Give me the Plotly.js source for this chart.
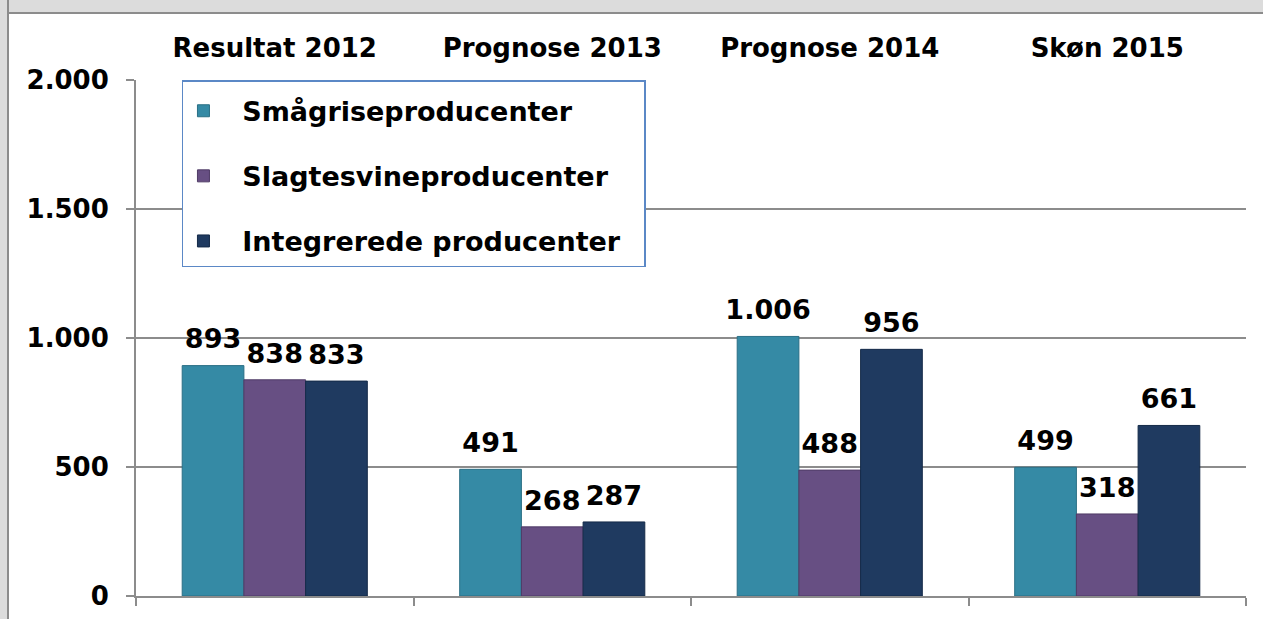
<!DOCTYPE html>
<html><head><meta charset="utf-8">
<script src="https://cdn.plot.ly/plotly-3.0.1.min.js"></script>
<style>
html,body{margin:0;padding:0;background:#fff;width:1263px;height:619px;overflow:hidden;scrollbar-width:none}
::-webkit-scrollbar{display:none;width:0;height:0}
#topbar{position:absolute;left:0;top:0;width:1263px;height:12px;background:#DCDCDC;border-bottom:2px solid #8c8c8c}
#leftbar{position:absolute;left:0;top:0;width:7px;height:619px;background:#DCDCDC;border-right:2px solid #8c8c8c}
#chart{position:absolute;left:0;top:0;width:1263px;height:619px}
</style></head><body>
<div id="topbar"></div><div id="leftbar"></div><div id="chart"></div>
<script>
const categories = ['Resultat 2012', 'Prognose 2013', 'Prognose 2014', 'Skøn 2015'];
const seriesNames = ['Smågriseproducenter', 'Slagtesvineproducenter', 'Integrerede producenter'];
const smaagrise = [893, 491, 1006, 499];
const slagtesvin = [838, 268, 488, 318];
const integrerede = [833, 287, 956, 661];
const yTicks = [0, 500, 1000, 1500, 2000];

const seriesValues = [smaagrise, slagtesvin, integrerede];
const fills = ['#358AA5', '#674F83', '#1F3A60'];
const edges = ['#2A6F85', '#4F3B66', '#142A48'];
const FONT = 'DejaVu Sans, Verdana, sans-serif';
const axisGray = '#8c8c8c';
const NB = '\u00A0\u00A0';

const traces = [];
seriesValues.forEach((vals, i) => {
  traces.push({
    type: 'bar',
    name: '<b>' + NB + seriesNames[i] + NB + '</b>',
    legendgroup: 'g' + i,
    x: categories,
    y: vals,
    marker: {color: fills[i], line: {color: edges[i], width: 1}},
    hoverinfo: 'x+y'
  });
});
// value labels: grouped scatter traces aligned with the bar groups
seriesValues.forEach((vals, i) => {
  traces.push({
    type: 'scatter',
    mode: 'markers+text',
    x: categories,
    y: vals,
    marker: {size: 15, opacity: 0, color: fills[i]},
    texttemplate: '<b>%{y:,}</b>',
    textposition: 'top center',
    textfont: {family: FONT, size: 27, color: '#000'},
    cliponaxis: false,
    showlegend: false,
    hoverinfo: 'skip'
  });
});

// invisible helper so the top axis draws category labels
traces.push({
  type: 'scatter', x: categories.map((c, i) => i), y: categories.map(() => 0),
  xaxis: 'x2', yaxis: 'y', mode: 'markers', marker: {opacity: 0},
  showlegend: false, hoverinfo: 'skip'
});

const layout = {
  width: 1263, height: 619,
  paper_bgcolor: 'rgba(0,0,0,0)',
  plot_bgcolor: 'rgba(0,0,0,0)',
  separators: ',.',
  margin: {l: 136, r: 17, t: 80, b: 23, pad: 0},
  barmode: 'group',
  bargap: 0.333,
  bargroupgap: 0,
  scattermode: 'group',
  scattergap: 0.333,
  font: {family: FONT, size: 26, color: '#000'},
  xaxis: {
    type: 'category',
    categoryorder: 'array', categoryarray: categories,
    tickson: 'boundaries', ticks: 'outside', ticklen: 8, tickwidth: 2, tickcolor: axisGray,
    showticklabels: false, showgrid: false,
    showline: true, linecolor: axisGray, linewidth: 2,
    zeroline: false, fixedrange: true
  },
  xaxis2: {
    overlaying: 'x', side: 'top', range: [-0.5, 3.5],
    tickmode: 'array', tickvals: categories.map((c, i) => i), ticktext: categories.map(c => '<b>' + c + '</b>'),
    ticks: '', showgrid: false, zeroline: false, showline: false,
    tickfont: {family: FONT, size: 26, color: '#000'},
    ticklabelstandoff: 17, fixedrange: true
  },
  yaxis: {
    range: [0, 2000], tickmode: 'array', tickvals: yTicks,
    ticktext: yTicks.map(v => '<b>' + v.toLocaleString('da-DK') + '</b>'),
    ticks: 'outside', ticklen: 8, tickwidth: 2, tickcolor: axisGray,
    showline: true, linecolor: axisGray, linewidth: 2,
    showgrid: true, gridcolor: axisGray, gridwidth: 2,
    zeroline: false, ticklabelstandoff: 12,
    tickfont: {family: FONT, size: 26, color: '#000'}, fixedrange: true
  },
  showlegend: true,
  legend: {
    x: 0.0414, y: 1, xanchor: 'left', yanchor: 'top',
    bgcolor: '#fff', bordercolor: '#5B88C6', borderwidth: 1.5,
    font: {family: FONT, size: 27, color: '#000'},
    title: {text: '\u00A0', font: {size: 4}},
    traceorder: 'grouped', tracegroupgap: 27,
    itemclick: false, itemdoubleclick: false
  }
};

Plotly.newPlot('chart', traces, layout, {displayModeBar: false, staticPlot: true});
</script>
</body></html>
